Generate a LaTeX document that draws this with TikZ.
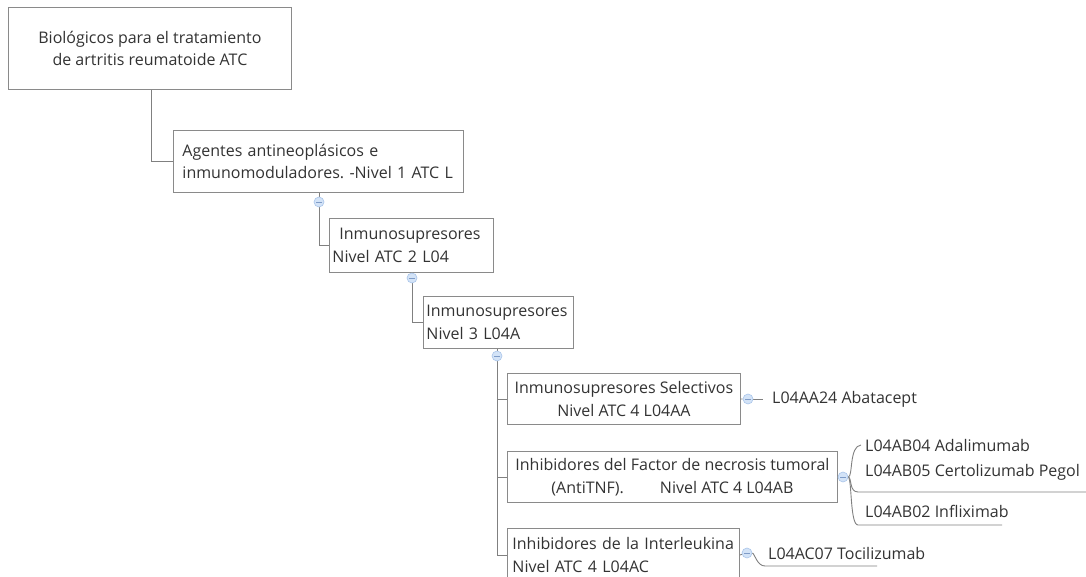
\documentclass[tikz,border=0pt]{standalone}
\usepackage{fontspec}
\setmainfont{Open Sans}
\usetikzlibrary{backgrounds}
\definecolor{txt}{HTML}{333333}
\definecolor{boxline}{HTML}{8A8A8A}
\definecolor{connc}{HTML}{808080}
\definecolor{cfill}{HTML}{D3E3F7}
\definecolor{cdraw}{HTML}{A9C5EA}
\definecolor{cminus}{HTML}{7F9CC8}
\frenchspacing
\begin{document}
\begin{tikzpicture}[x=1pt,y=-1pt,
  font=\fontsize{16}{22.5}\selectfont\frenchspacing,
  topic/.style={draw=boxline, fill=white, line width=0.9pt, inner ysep=0pt, anchor=north west, text=txt},
  ltopic/.style={topic, align=left},
  ctopic/.style={topic, align=center, inner xsep=0pt},
  leaf/.style={anchor=west, inner sep=0pt, text=txt},
  connline/.style={draw=connc, line width=0.9pt},
  collapse/.style={circle, minimum size=10pt, inner sep=0pt, fill=cfill, draw=cdraw, line width=0.6pt,
    path picture={\draw[cminus, line width=0.8pt] ([xshift=-2.6pt]path picture bounding box.center) -- ([xshift=2.6pt]path picture bounding box.center);}}
]
\useasboundingbox (0,0) rectangle (1086,577);
\clip (0,0) rectangle (1086,577);

% topics
\node[ctopic, minimum width=283pt, minimum height=82pt] (b1) at (8,7)
  {Biológicos para el tratamiento\\de artritis reumatoide ATC};
\node[ltopic, inner xsep=9pt, text width=272pt, minimum height=62pt] (b2) at (173,130)
  {\mbox{Agentes antineoplásicos e}\\\mbox{inmunomoduladores. -Nivel 1 ATC L}};
\node[ltopic, inner xsep=3pt, text width=158pt, minimum height=54pt] (b3) at (329,218)
  {\mbox{\hspace*{7pt}Inmunosupresores}\\\mbox{Nivel ATC 2 L04}};
\node[ltopic, inner xsep=3pt, text width=144pt, minimum height=52pt] (b4) at (423,296)
  {\mbox{Inmunosupresores}\\\mbox{Nivel 3 L04A}};
\node[ctopic, minimum width=233pt, minimum height=51pt] (b5) at (507,373)
  {Inmunosupresores Selectivos\\Nivel ATC 4 L04AA};
\node[ctopic, minimum width=330pt, minimum height=51pt] (b6) at (507,451)
  {Inhibidores del Factor de necrosis tumoral\\(AntiTNF).\hspace{36pt}Nivel ATC 4 L04AB\hspace{6pt}};
\node[ltopic, inner xsep=5pt, text width=222pt, minimum height=53pt] (b7) at (507,528)
  {\mbox{Inhibidores de la Interleukina}\\\mbox{Nivel ATC 4 L04AC}};

% collapse buttons
\node[collapse] (c2) at (319,202) {};
\node[collapse] (c3) at (412,278) {};
\node[collapse] (c4) at (497,356) {};
\node[collapse] (c5) at (748,399) {};
\node[collapse] (c6) at (843,477) {};
\node[collapse] (c7) at (747,553) {};

% leaves
\node[leaf] (t5) at (772,399) {L04AA24 Abatacept};
\node[leaf] (t6a) at (865,445) {L04AB04 Adalimumab};
\node[leaf] (t6b) at (865,472) {L04AB05 Certolizumab Pegol};
\node[leaf] (t6c) at (865,511) {L04AB02 Infliximab};
\node[leaf] (t7) at (768,553) {L04AC07 Tocilizumab};

\coordinate (u6b) at (1086,492);
\coordinate (u6c) at (1002,525);
\coordinate (u7) at (877,566);

\begin{scope}[on background layer]
\fill[white] (0,0) rectangle (1086,577);
\draw[connline] ([xshift=1.5pt]b1.south) |- (b2.west);
\draw[connline] (c2) -- (c2 |- b2.south);
\draw[connline] (c2) |- (b3.west);
\draw[connline] (c3) -- (c3 |- b3.south);
\draw[connline] (c3) |- (b4.west);
\draw[connline] (c4) -- (c4 |- b4.south);
\draw[connline] (c4) |- (b5.west);
\draw[connline] (c4) |- (b6.west);
\draw[connline] (c4) |- (b7.west);
\draw[connline] (b5.east) -- (c5);
\draw[connline] (c5) -- ([xshift=-9pt]t5.west);
\draw[connline] (b6.east) -- (c6);
\draw[connline] (b7.east) -- (c7);
\draw[connline] (c6.east) .. controls (853,477) and (849,446) .. ([xshift=-4pt]t6a.west);
\draw[connline] (c6.east) .. controls (852,478) and (849,492) .. (858,492) -- (u6b);
\draw[connline] (c6.east) .. controls (852,480) and (850,525) .. (858,525) -- (u6c);
\draw[connline] (c7.east) .. controls (755,554) and (757,566) .. (765,566) -- (u7);
\end{scope}
\end{tikzpicture}
\end{document}
